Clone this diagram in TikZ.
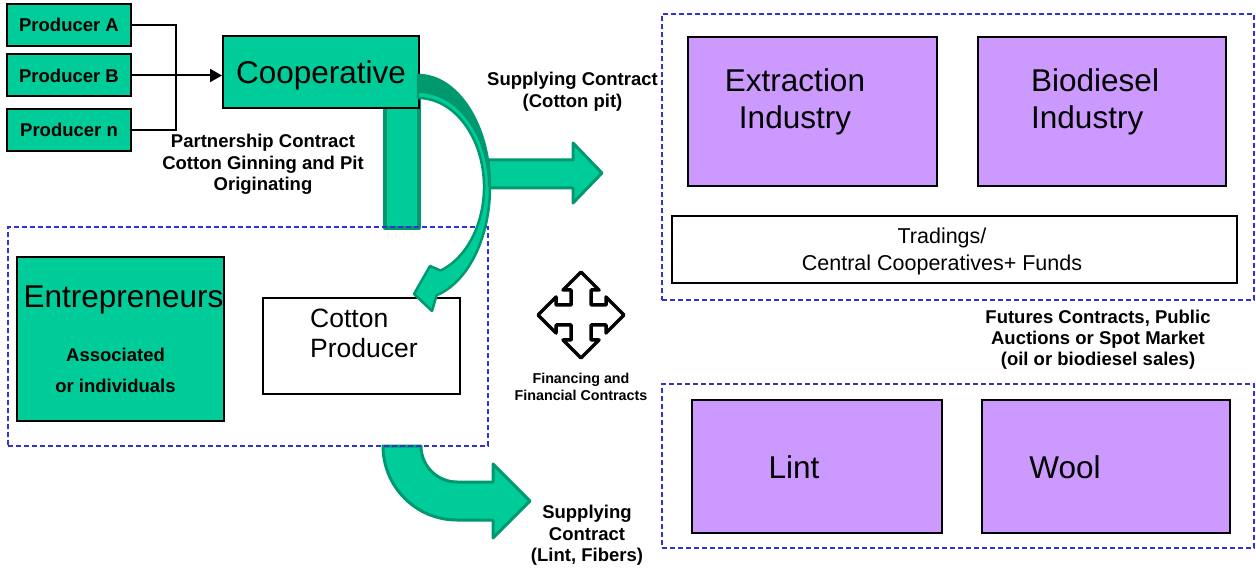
\documentclass[tikz,border=0pt]{standalone}
\usepackage{fontspec}
\setmainfont{Liberation Sans}
\usetikzlibrary{arrows.meta}
\definecolor{grn}{HTML}{00CC99}
\definecolor{dkgrn}{HTML}{00996F}
\definecolor{purp}{HTML}{CC99FF}
\definecolor{dblue}{HTML}{3333CC}
\begin{document}
\begin{tikzpicture}[x=1pt,y=-1pt,
 box/.style={draw=black, line width=2pt, inner sep=0pt, rectangle},
 gbox/.style={box, fill=grn},
 pbox/.style={box, fill=purp},
 wbox/.style={box, fill=white},
 dbox/.style={draw=dblue, line width=1.6pt, dash pattern=on 5pt off 3pt, rectangle, inner sep=0pt},
 fat/.style={fill=grn, draw=dkgrn, line width=3pt, line join=round},
 lbl/.style={font=\fontsize{18.5}{21.5}\selectfont\bfseries, align=center, inner sep=0pt},
 finlbl/.style={font=\fontsize{14.3}{17.5}\selectfont\bfseries, align=center, inner sep=0pt},
 bigtxt/.style={font=\fontsize{31.5}{36.5}\selectfont, inner sep=0pt},
 cptxt/.style={font=\fontsize{26.5}{31}\selectfont, align=left, inner sep=0pt},
 trtxt/.style={font=\fontsize{21.5}{27}\selectfont, align=center, inner sep=0pt},
 conn/.style={line width=1.5pt}
]
\useasboundingbox (0,0) rectangle (1256,569);

% green bar under the cooperative
\path[fat, line width=4pt] (385,100) rectangle (419,228);

% straight arrow to the right
\path[fat] (488,160) -- (573,160) -- (573,143) -- (602,173) -- (573,203) -- (573,188) -- (488,188) -- cycle;

% bottom curved arrow
\path[fat] (383,446) arc[start angle=180,end angle=90,radius=74] -- (493,520) -- (493,538) -- (530,501) -- (493,464) -- (493,482) -- (457,482) arc[start angle=90,end angle=180,radius=36] -- cycle;

% dashed groups
\node[dbox, minimum width=480, minimum height=219] (grpL) at (248,336.5) {};
\node[dbox, minimum width=592, minimum height=286] (grpT) at (958,157) {};
\node[dbox, minimum width=592, minimum height=164] (grpB) at (958,466) {};

% producers
\node[gbox, lbl, minimum width=124, minimum height=42, text depth=0pt] (pA) at (69,25) {Producer A};
\node[gbox, lbl, minimum width=124, minimum height=42, text depth=0pt] (pB) at (69,75.5) {Producer B};
\node[gbox, lbl, minimum width=124, minimum height=42, text depth=0pt] (pN) at (69,130) {Producer n};

\node[gbox, bigtxt, minimum width=196, minimum height=72, text depth=0pt] (coop) at (321,72) {Cooperative};

\coordinate (jA) at (176,25);
\coordinate (jN) at (176,130);
\draw[conn] (pA.east) -- (jA) -- (jN) -- (pN.east);
\draw[line width=2pt, -{Triangle[length=12pt,width=13pt]}] (pB.east) -- (pB.east -| coop.west);

\node[lbl, anchor=base] (partner) at (263,191) {Partnership Contract\\Cotton Ginning and Pit\\Originating};
\node[lbl, anchor=base] (supT) at (572.5,107.5) {Supplying Contract\\(Cotton pit)};
\node[lbl, anchor=base] (supB) at (587,561.5) {Supplying\\Contract\\(Lint, Fibers)};
\node[lbl, anchor=base] (fut) at (1098,366) {Futures Contracts, Public\\Auctions or Spot Market\\(oil or biodiesel sales)};
\node[finlbl, anchor=base] (fin) at (581,400.5) {Financing and\\Financial Contracts};

% left group
\node[gbox, minimum width=207, minimum height=164] (entre) at (120.5,339) {};
\node[bigtxt, anchor=base] (entreT) at (123.5,308) {Entrepreneurs};
\node[lbl, font=\fontsize{18.5}{31}\selectfont\bfseries, anchor=base] (assoc) at (115.5,392) {Associated\\or individuals};
\node[wbox, minimum width=197, minimum height=96] (cotton) at (361.5,346) {};
\node[cptxt, anchor=base west] (cottonT) at (310,358) {Cotton\\Producer};

% top right group
\node[pbox, minimum width=249, minimum height=149] (extr) at (812.5,111.5) {};
\node[bigtxt, align=center, anchor=base] (extrT) at (795,128.5) {Extraction\\Industry};
\node[pbox, minimum width=248, minimum height=149] (bio) at (1102,111.5) {};
\node[bigtxt, align=left, anchor=base west] (bioT) at (1031,128.5) {Biodiesel\\Industry};
\node[wbox, minimum width=565, minimum height=67] (trad) at (954.5,249.5) {};
\node[trtxt, anchor=base] (tradT) at (942,271) {Tradings/\\Central Cooperatives+ Funds};

% bottom right group
\node[pbox, minimum width=250, minimum height=133] (lint) at (817,466.5) {};
\node[bigtxt, anchor=base] (lintT) at (794,478) {Lint};
\node[pbox, minimum width=248, minimum height=133] (wool) at (1106,466.5) {};
\node[bigtxt, anchor=base] (woolT) at (1065,478) {Wool};

% four-way arrow
\draw[line width=3.5pt, line join=round, fill=white, shift={(581,315)}]
 (0,-43) -- (18,-25) -- (10,-25) -- (10,-10) -- (25,-10) -- (25,-18) -- (43,0) -- (25,18) -- (25,10) -- (10,10) -- (10,25) -- (18,25) -- (0,43) -- (-18,25) -- (-10,25) -- (-10,10) -- (-25,10) -- (-25,18) -- (-43,0) -- (-25,-18) -- (-25,-10) -- (-10,-10) -- (-10,-25) -- (-18,-25) -- cycle;

% curved arrow from the cooperative to the cotton producer
\path[fat, line width=2.5pt] (418,75) arc[start angle=-90, end angle=75, x radius=72, y radius=112] -- (432,311) -- (414,294) -- (430,266) -- (440.6,270.6) arc[start angle=70, end angle=-90, x radius=66, y radius=89] -- cycle;
\fill[dkgrn] (418,75) arc[start angle=-90, end angle=0, x radius=72, y radius=112] -- (488,187) arc[start angle=0, end angle=-90, x radius=70, y radius=94] -- cycle;
\end{tikzpicture}
\end{document}
